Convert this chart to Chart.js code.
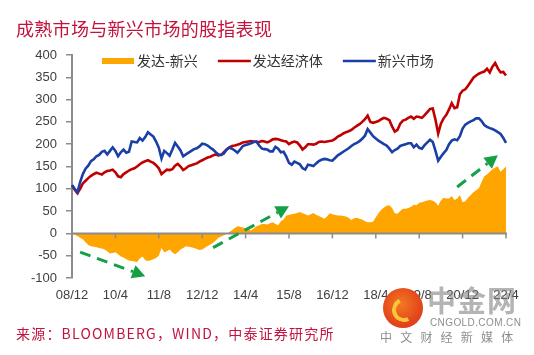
<!DOCTYPE html>
<html><head><meta charset="utf-8">
<script src="https://cdn.jsdelivr.net/npm/chart.js@4/dist/chart.umd.min.js"></script>
<style>
html,body{margin:0;padding:0;background:#fff;}
#wrap{position:relative;width:534px;height:355px;overflow:hidden;background:#fff;}
#c{position:absolute;left:0;top:0;}
.title{position:absolute;left:16px;top:15px;font-size:18px;font-family:"Noto Sans CJK SC";color:#C4123E;white-space:nowrap;line-height:26px;letter-spacing:0.3px;}
.src{position:absolute;left:16px;top:323px;font-size:14px;font-family:"Noto Sans CJK SC";color:#C4123E;white-space:nowrap;line-height:20px;letter-spacing:1.2px;}
.wm-circle{position:absolute;left:383px;top:288px;width:40px;height:40px;border-radius:50%;background:radial-gradient(circle at 45% 40%,#F27A22 0%,#E4461C 60%,#D2361A 100%);}
.wm-swirl{position:absolute;left:392px;top:298px;width:16px;height:16px;border-radius:50%;border:4px solid #F9C53A;border-right-color:transparent;border-top-color:transparent;transform:rotate(20deg);}
.wm-big{position:absolute;left:427px;top:282px;font-size:29px;font-weight:bold;font-family:"Noto Sans CJK SC";color:rgba(130,130,130,0.6);white-space:nowrap;line-height:34px;letter-spacing:1px;}
.wm-url{position:absolute;left:430px;top:317px;font-size:10px;font-family:"Liberation Sans";color:rgba(130,130,130,0.9);white-space:nowrap;line-height:12px;letter-spacing:0.4px;}
.wm-cn{position:absolute;left:380px;top:329px;font-size:12px;font-family:"Noto Sans CJK SC";color:rgba(130,130,130,0.9);white-space:nowrap;line-height:16px;letter-spacing:8.2px;}
</style></head>
<body>
<div id="wrap">
<canvas id="c" width="534" height="355"></canvas>
<div class="title">成熟市场与新兴市场的股指表现</div>
<div class="src">来源：BLOOMBERG，WIND，中泰证券研究所</div>
<div class="wm-circle"></div><div class="wm-swirl"></div>
<div class="wm-big">中金网</div>
<div class="wm-url">CNGOLD.COM.CN</div>
<div class="wm-cn">中文财经新媒体</div>
</div>
<script>
// Monthly categories Dec 2008 .. Apr 2022
const categories = [];
for (let yy = 2008, mm = 12; categories.length < 161; ) {
  categories.push(String(yy % 100).padStart(2, '0') + '/' + mm);
  mm++; if (mm > 12) { mm = 1; yy++; }
}
const tickLabels = ['08/12','10/4','11/8','12/12','14/4','15/8','16/12','18/4','19/8','20/12','22/4'];

const developed = [108,98,90,100,112,118,124,129,133,136,134,132,137,140,141,143,137,128,126,133,
137,141,144,146,150,155,159,162,164,161,158,153,146,133,138,143,142,144,152,156,
150,142,146,151,153,155,157,161,164,167,170,172,175,177,175,176,182,188,193,196,
197,199,201,204,205,206,207,206,205,205,207,206,204,207,211,212,211,209,207,206,
200,204,206,204,197,188,193,200,200,199,201,205,206,205,206,207,208,212,217,220,
224,227,229,232,237,241,245,250,256,264,250,248,250,252,256,259,257,254,240,228,
232,246,253,255,259,262,257,262,261,259,265,272,279,280,255,224,246,258,266,278,
292,281,283,312,320,323,331,340,349,354,358,361,363,369,361,374,382,370,361,362,354];

const emerging = [108,100,92,115,133,145,152,162,166,173,176,183,185,177,185,193,185,173,182,188,
181,183,206,205,204,214,208,216,227,222,217,206,192,168,185,180,174,188,203,195,
186,173,177,181,185,189,191,195,201,200,197,192,188,182,177,176,179,188,192,190,
186,181,188,196,198,200,202,205,206,197,190,189,188,184,184,194,190,182,183,172,
158,154,161,158,155,146,143,154,153,151,157,162,165,167,166,164,163,169,175,179,
183,187,191,196,200,203,207,212,219,234,226,218,213,208,204,200,197,190,182,187,
190,196,198,200,202,202,193,199,192,190,198,204,210,205,185,163,172,180,187,200,
208,211,209,218,235,244,248,251,254,258,258,252,243,239,236,234,231,227,223,214,203];

const spread = [0,-3,-6,-10,-13,-20,-26,-29,-30,-31,-33,-34,-36,-40,-45,-44,-42,-47,-52,-54,
-58,-61,-62,-63,-64,-56,-52,-60,-62,-60,-58,-55,-50,-33,-42,-40,-36,-43,-47,-42,
-36,-33,-29,-30,-31,-33,-35,-37,-36,-32,-28,-25,-21,-16,-10,-7,-4,-1,3,7,
12,16,15,13,11,8,7,11,16,18,21,21,20,23,25,21,18,27,31,40,
41,43,44,46,48,45,43,40,43,46,42,39,36,33,38,45,43,41,40,40,
39,38,35,30,34,35,33,31,27,25,25,26,36,45,53,58,62,63,57,45,
44,50,55,55,57,60,64,63,69,70,72,74,75,73,70,62,74,80,78,78,
84,75,78,86,70,72,80,86,92,97,101,115,128,132,138,144,148,150,138,144,150];

// Trend arrows: [startIndex, startValue, endIndex, endValue]
const arrows = [[3,-42,27,-96],[52,-32,80,61],[142,104,157,175]];

const seriesNames = ['发达-新兴','发达经济体','新兴市场'];
const colors = {spread:'#FFA500', developed:'#C00000', emerging:'#1A3FA6', axis:'#8c8c8c', arrow:'#16A046', text:'#404040'};

const deco = {
  id: 'deco',
  afterDatasetsDraw(chart) {
    const {ctx, chartArea: a, scales: {x, y}} = chart;
    const y0 = y.getPixelForValue(0);
    ctx.save();
    ctx.strokeStyle = colors.axis; ctx.lineWidth = 2;
    ctx.beginPath(); ctx.moveTo(a.left, y0); ctx.lineTo(a.right + 1, y0); ctx.stroke();
    ctx.lineWidth = 1.5;
    categories.forEach((c, i) => {
      if (tickLabels.includes(c)) {
        const px = x.getPixelForValue(i);
        ctx.beginPath(); ctx.moveTo(px, y0); ctx.lineTo(px, y0 + 5); ctx.stroke();
      }
    });
    ctx.strokeStyle = colors.arrow; ctx.fillStyle = colors.arrow; ctx.lineWidth = 3;
    arrows.forEach(([i0, v0, i1, v1]) => {
      const x0 = x.getPixelForValue(i0), yy0 = y.getPixelForValue(v0);
      const x1 = x.getPixelForValue(i1), yy1 = y.getPixelForValue(v1);
      const ang = Math.atan2(yy1 - yy0, x1 - x0);
      const hl = 13, hw = 7;
      const bx = x1 - hl * Math.cos(ang), by = yy1 - hl * Math.sin(ang);
      ctx.setLineDash([11, 7]);
      ctx.beginPath(); ctx.moveTo(x0, yy0); ctx.lineTo(bx, by); ctx.stroke();
      ctx.setLineDash([]);
      ctx.beginPath();
      ctx.moveTo(x1, yy1);
      ctx.lineTo(bx + hw * Math.sin(ang), by - hw * Math.cos(ang));
      ctx.lineTo(bx - hw * Math.sin(ang), by + hw * Math.cos(ang));
      ctx.closePath(); ctx.fill();
    });
    ctx.restore();
  },
  afterDraw(chart) {
    const ctx = chart.ctx;
    ctx.save();
    ctx.font = '14px "Noto Sans CJK SC"';
    ctx.textBaseline = 'middle';
    let lx = 102; const ly = 61;
    chart.data.datasets.forEach((ds, k) => {
      if (k === 0) {
        ctx.fillStyle = ds.backgroundColor; ctx.fillRect(lx, ly - 3, 32, 6);
      } else {
        ctx.strokeStyle = ds.borderColor; ctx.lineWidth = 2.5;
        ctx.beginPath(); ctx.moveTo(lx, ly); ctx.lineTo(lx + 33, ly); ctx.stroke();
      }
      ctx.fillStyle = '#333';
      ctx.fillText(ds.label, lx + 35, ly);
      lx += 35 + ctx.measureText(ds.label).width + 20;
    });
    ctx.restore();
  }
};

new Chart(document.getElementById('c'), {
  type: 'line',
  data: {
    labels: categories,
    datasets: [
      {label: seriesNames[0], data: spread, fill: 'origin', backgroundColor: colors.spread, borderColor: colors.spread, borderWidth: 0, pointRadius: 0, tension: 0, order: 3},
      {label: seriesNames[1], data: developed, fill: false, borderColor: colors.developed, borderWidth: 2.6, pointRadius: 0, tension: 0, order: 2},
      {label: seriesNames[2], data: emerging, fill: false, borderColor: colors.emerging, borderWidth: 2.6, pointRadius: 0, tension: 0, order: 1}
    ]
  },
  options: {
    responsive: false, animation: false, devicePixelRatio: 1,
    layout: {padding: {top: 55, right: 28, bottom: 0, left: 0}},
    plugins: {legend: {display: false}, tooltip: {enabled: false}, title: {display: false}},
    scales: {
      x: {
        type: 'category',
        grid: {display: false, drawTicks: false},
        border: {display: false},
        afterFit(s) { s.height = 77; },
        ticks: {
          autoSkip: false, maxRotation: 0, minRotation: 0, padding: 10,
          color: colors.text, font: {family: 'Liberation Sans', size: 13},
          callback(v) { const l = this.getLabelForValue(v); return tickLabels.includes(l) ? l : ''; }
        }
      },
      y: {
        min: -100, max: 400,
        afterFit(s) { s.width = 72; },
        border: {display: true, color: colors.axis, width: 2},
        grid: {display: true, drawOnChartArea: false, drawTicks: true, tickLength: 6, color: colors.axis, lineWidth: 1.5},
        ticks: {stepSize: 50, padding: 9, color: colors.text, font: {family: 'Liberation Sans', size: 13}}
      }
    }
  },
  plugins: [deco]
});
</script>
</body></html>
